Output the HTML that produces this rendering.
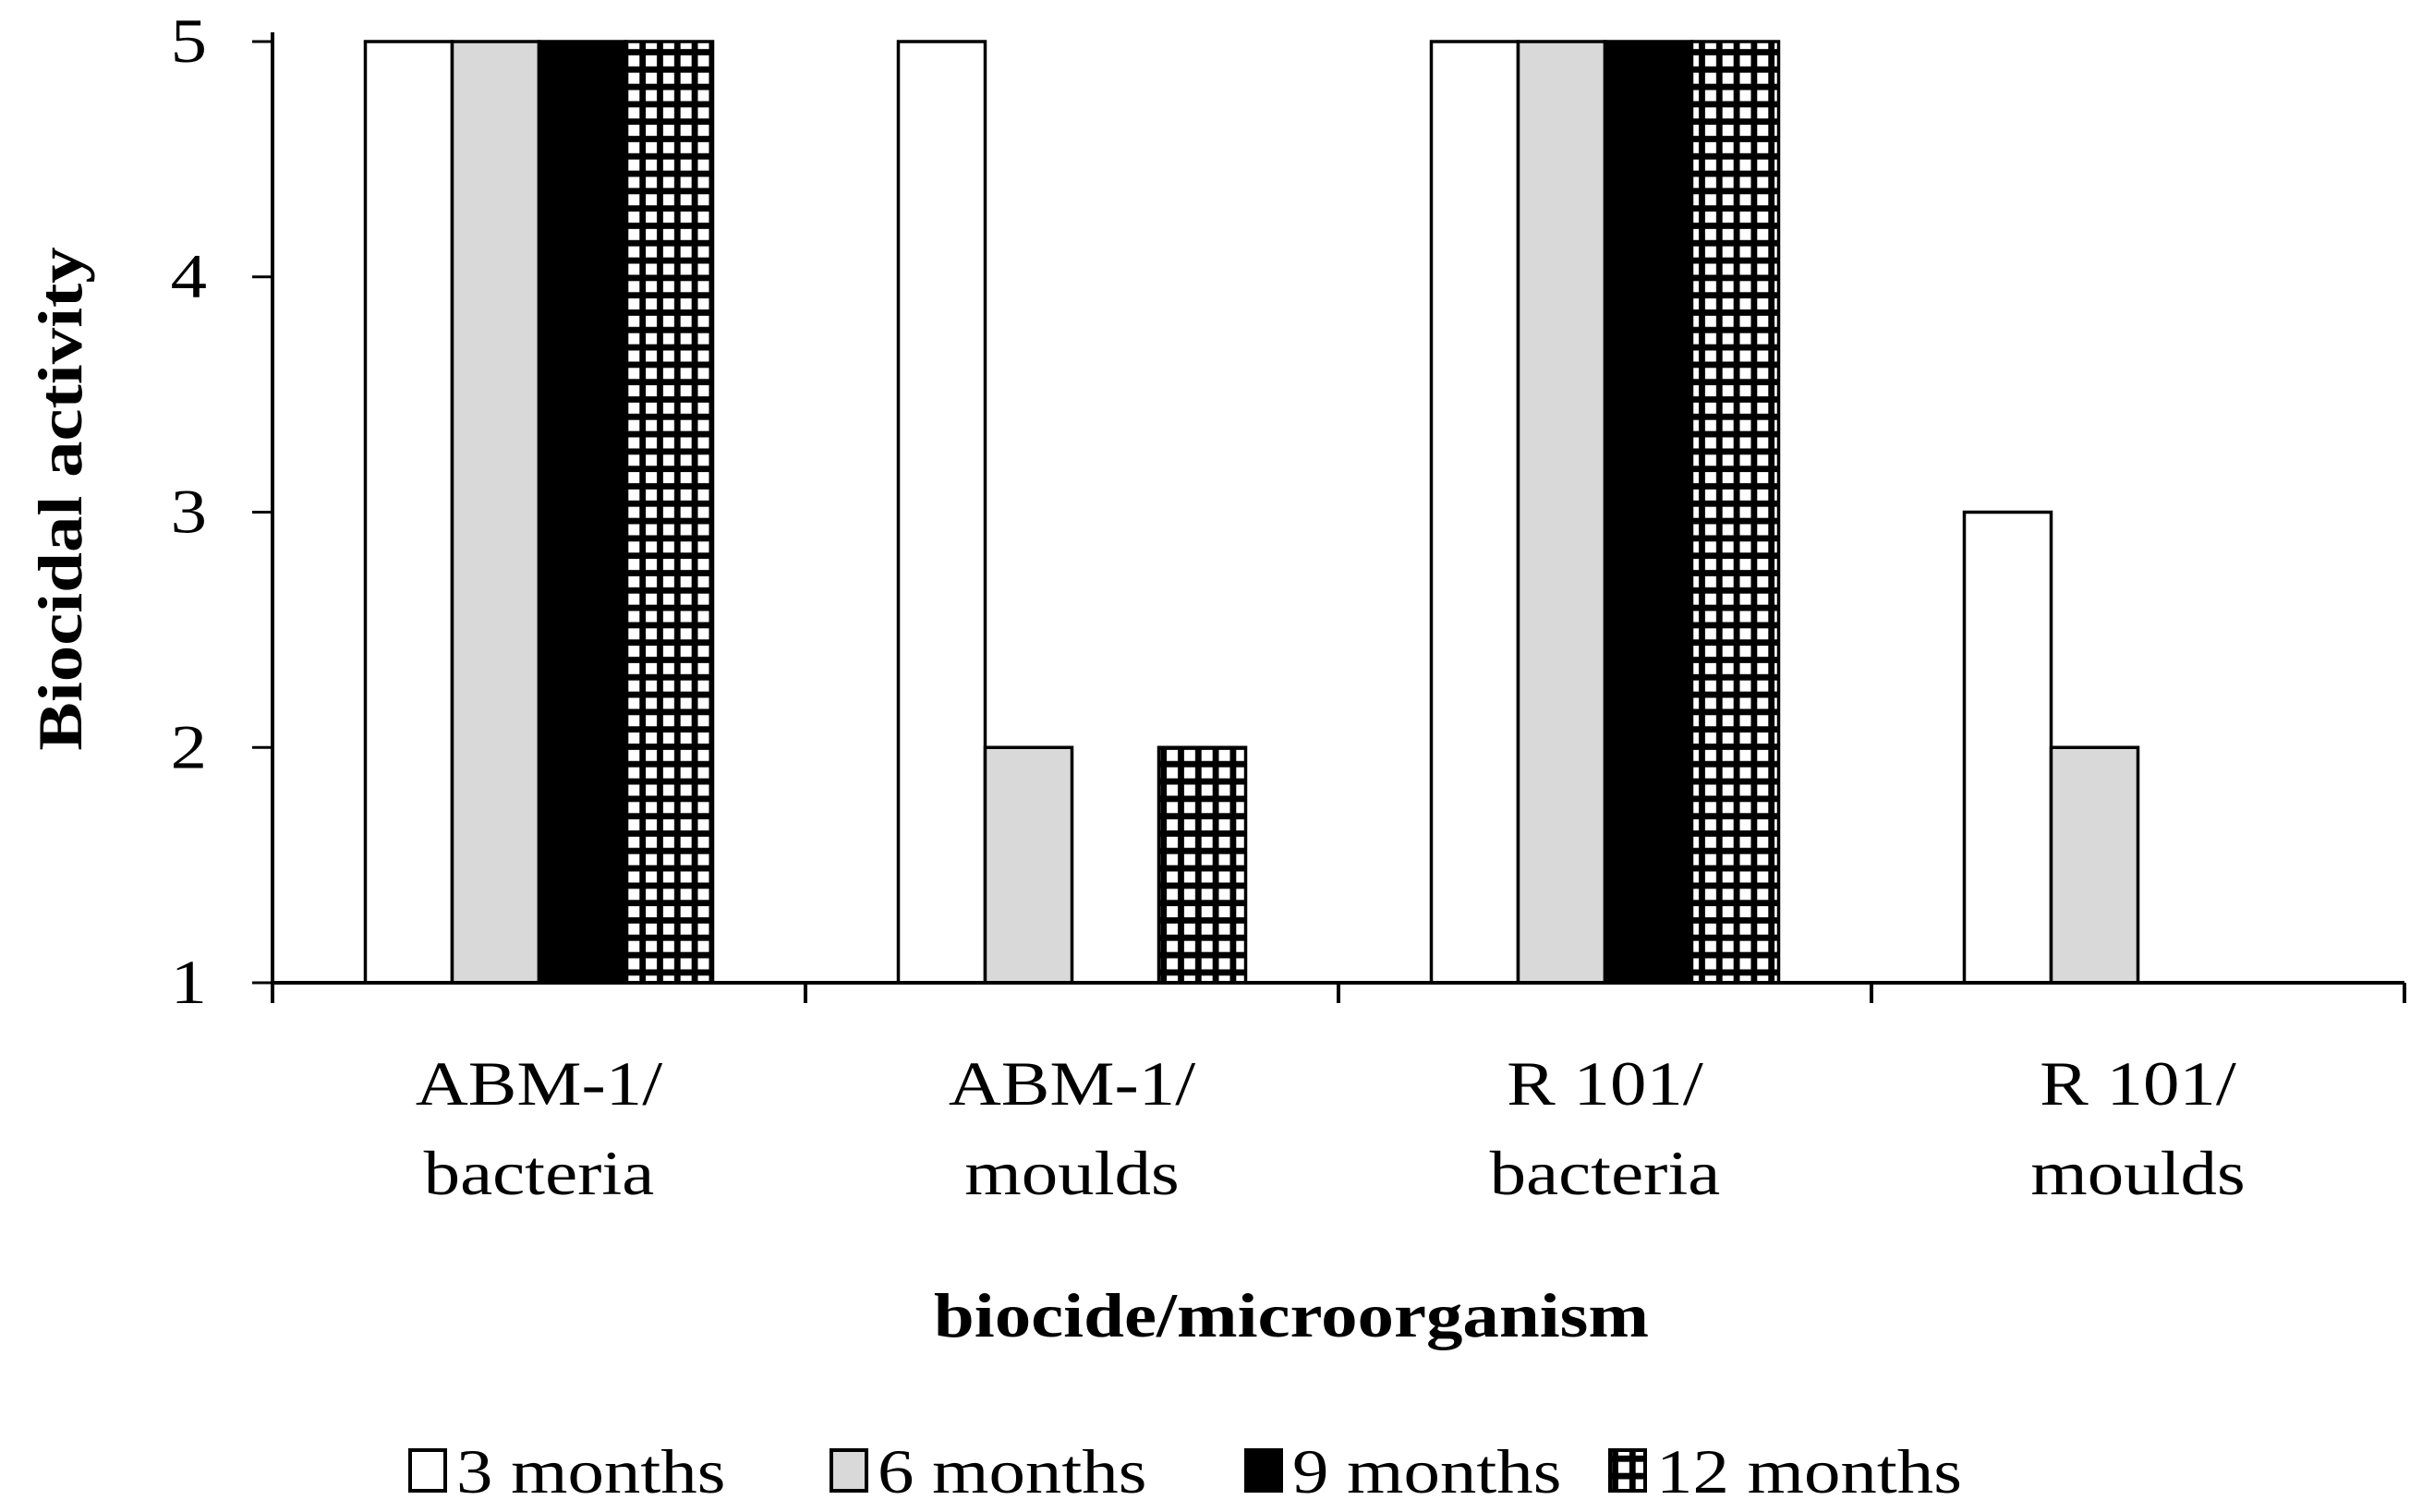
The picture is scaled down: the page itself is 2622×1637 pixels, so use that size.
<!DOCTYPE html>
<html><head><meta charset="utf-8"><style>
html,body{margin:0;padding:0;background:#fff;}
svg{display:block;font-family:"Liberation Serif",serif;}
</style></head><body>
<svg id="chart" width="2622" height="1637" viewBox="0 0 2622 1637" xmlns="http://www.w3.org/2000/svg">
<defs>
<pattern id="grid" patternUnits="userSpaceOnUse" width="18.8" height="18.8" x="0" y="0">
<rect width="18.8" height="18.8" fill="#000"/>
<rect x="3.5" y="3.5" width="12" height="12" fill="#fff"/>
</pattern>
</defs>
<g id="plot"></g>
<text class="stretch" transform="translate(88,540) rotate(-90)" text-anchor="middle" font-size="68" font-weight="bold">Biocidal activity</text>
<text class="stretch" x="1398" y="1447" text-anchor="middle" font-size="68" font-weight="bold">biocide/microorganism</text>
<g id="legend"></g>
</svg>
<script>
const categories = [["ABM-1/","bacteria"],["ABM-1/","moulds"],["R 101/","bacteria"],["R 101/","moulds"]];
const seriesNames = ["3 months","6 months","9 months","12 months"];
const s3 = [5,5,5,3];
const s6 = [5,2,5,2];
const s9 = [5,1,5,1];
const s12 = [5,2,5,1];
const yTicks = [1,2,3,4,5];
const series = [s3,s6,s9,s12];
const fills = ["#fff","#d9d9d9","#000","url(#grid)"];

const NS="http://www.w3.org/2000/svg";
const plot=document.getElementById('plot');
const x0=295,x1=2603,yTop=45,yBot=1064,yMin=1,yMax=5;
const gw=(x1-x0)/categories.length, bw=94;
function y(v){return yBot-(v-yMin)/(yMax-yMin)*(yBot-yTop);}
function mk(tag,attrs,parent){const e=document.createElementNS(NS,tag);for(const k in attrs)e.setAttribute(k,attrs[k]);(parent||plot).appendChild(e);return e;}

series.forEach((arr,si)=>{
  arr.forEach((v,ci)=>{
    if(v<=yMin) return;
    const bx=x0+ci*gw+(gw-bw*4)/2+si*bw;
    const r=mk('rect',{x:bx,y:y(v),width:bw,height:y(yMin)-y(v),fill:fills[si],stroke:'#000','stroke-width':3.5});
    
    
  });
});
let a=mk('line',{x1:x0,y1:yTop-10,x2:x0,y2:yBot+22,stroke:'#000','stroke-width':4});


a=mk('line',{x1:x0,y1:yBot,x2:x1,y2:yBot,stroke:'#000','stroke-width':4});


yTicks.forEach(t=>{
  const l=mk('line',{x1:x0-22,y1:y(t),x2:x0,y2:y(t),stroke:'#000','stroke-width':3});
  
  
  const tx=mk('text',{x:224,y:y(t)+22,'text-anchor':'end','font-size':68,'class':'stretch'});
  tx.textContent=t;
  
  
});
for(let i=0;i<=categories.length;i++){
  const l=mk('line',{x1:x0+i*gw,y1:yBot,x2:x0+i*gw,y2:yBot+22,stroke:'#000','stroke-width':4});
  
  
}
categories.forEach((c,ci)=>{
  const cx=x0+ci*gw+gw/2;
  c.forEach((line,li)=>{
    const t=mk('text',{x:cx,y:1196+li*97,'text-anchor':'middle','font-size':68,'class':'stretch'});
    t.textContent=line;
    
    
  });
});
const leg=document.getElementById('legend');
const lx=[444,900,1349,1743];
seriesNames.forEach((n,i)=>{
  const r=mk('rect',{x:lx[i],y:1570,width:38,height:44,fill:fills[i],stroke:'#000','stroke-width':4},leg);
  
  
  const t=mk('text',{x:lx[i]+50,y:1616,'font-size':68,'class':'stretch'},leg);
  t.textContent=n;
  
  
});
document.querySelectorAll('text.stretch').forEach(t=>{
  const w=t.getComputedTextLength();
  t.setAttribute('textLength',(w*1.16).toFixed(1));
  t.setAttribute('lengthAdjust','spacingAndGlyphs');
});
</script>
</body></html>
